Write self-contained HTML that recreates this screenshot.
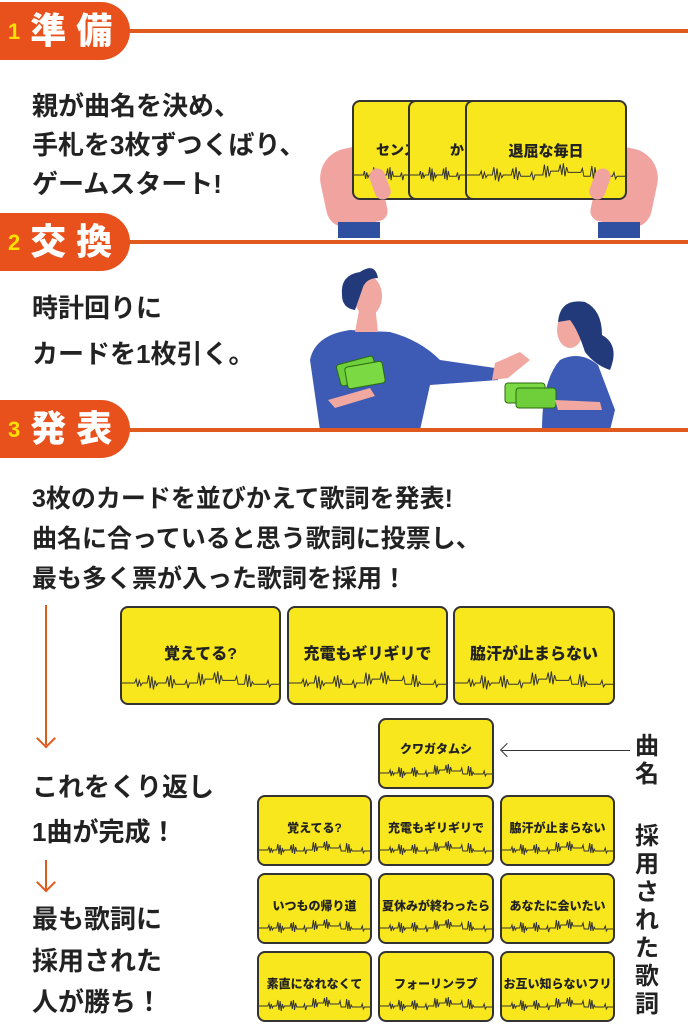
<!DOCTYPE html>
<html><head><meta charset="utf-8"><style>
*{margin:0;padding:0;box-sizing:border-box}
body{width:688px;height:1024px;position:relative;background:#fff;overflow:hidden;font-family:"Liberation Sans","Noto Sans CJK JP",sans-serif;color:#222}
.a{position:absolute}
.tab{position:absolute;left:0;width:130px;height:58px;background:#e8501c;border-radius:0 29px 29px 0;color:#fff;font-weight:900;font-size:36px;line-height:58px;padding-left:8px;white-space:nowrap}
.tab b{color:#ffe000;font-size:22px;margin-right:10px;vertical-align:4px}
.line{position:absolute;left:120px;right:0;height:4px;background:#e05a1e}
.t{position:absolute;font-weight:700;font-size:26px;white-space:nowrap;letter-spacing:0}
.card{position:absolute;background:#f8e71c;border:2px solid #333;border-radius:8px;overflow:hidden}
.card span{position:absolute;left:0;right:0;text-align:center;font-weight:900;white-space:nowrap;color:#222}
.card svg{position:absolute;left:0;width:100%}
.v{position:absolute;font-weight:700;font-size:24px;width:26px;line-height:28px;text-align:center}
</style></head><body>
<svg width="0" height="0" style="position:absolute"><defs>
<symbol id="w" viewBox="0 0 100 20" preserveAspectRatio="none"><path d="M0 10H8l1-3 1 6 1-5 1 4 1-2H16l1-6 1 10 1-9 1 10 1-7 1 4 1-2H28l1-5 1 8 1-9 1 10 1-7 1 4H40l1-3 1 6 1-4H48l1-8 1 10 1-9 1 8 1-4H58l1-5 1 8 1-9 1 10 1-7 1 4H72l1-3 1 6H78l1-8 1 10 1-9 1 9 1-4 1 2H92l1-3 1 5 1-2H100" fill="none" stroke="#333" stroke-width="1" vector-effect="non-scaling-stroke"/></symbol></defs></svg>

<div class="line" style="top:29px"></div>
<div class="tab" style="top:2px"><b>1</b>準 備</div>
<div class="t" style="left:32px;top:86px">親が曲名を決め、</div>
<div class="t" style="left:32px;top:125px">手札を3枚ずつくばり、</div>
<div class="t" style="left:32px;top:164px">ゲームスタート!</div>

<!-- hands -->
<div class="a" style="left:322px;top:148px;width:60px;height:78px;background:#f1a3a0;border-radius:30px 10px 10px 20px;transform:rotate(-12deg)"></div>
<div class="a" style="left:338px;top:222px;width:42px;height:16px;background:#2f4fa0"></div>
<div class="a" style="left:596px;top:148px;width:60px;height:78px;background:#f1a3a0;border-radius:10px 30px 20px 10px;transform:rotate(12deg)"></div>
<div class="a" style="left:598px;top:222px;width:42px;height:16px;background:#2f4fa0"></div>
<div class="card" style="left:352px;top:100px;width:120px;height:100px"><span style="top:38px;font-size:14px;text-align:left;padding-left:22px">センス</span><svg style="top:60px;height:26px"><use href="#w"/></svg></div>
<div class="card" style="left:408px;top:100px;width:120px;height:100px"><span style="top:38px;font-size:14px;text-align:left;padding-left:40px">か</span><svg style="top:60px;height:26px"><use href="#w"/></svg></div>
<div class="card" style="left:465px;top:100px;width:162px;height:100px"><span style="top:38px;font-size:15px">退屈な毎日</span><svg style="top:60px;height:26px"><use href="#w"/></svg></div>
<div class="a" style="left:372px;top:168px;width:16px;height:32px;background:#f1a3a0;border-radius:8px;transform:rotate(-20deg)"></div>
<div class="a" style="left:592px;top:168px;width:16px;height:32px;background:#f1a3a0;border-radius:8px;transform:rotate(20deg)"></div>

<div class="line" style="top:240px"></div>
<div class="tab" style="top:213px"><b>2</b>交 換</div>
<div class="t" style="left:32px;top:288px">時計回りに</div>
<div class="t" style="left:32px;top:334px">カードを1枚引く。</div>

<!-- people -->
<svg class="a" style="left:280px;top:260px" width="380" height="170" viewBox="0 0 380 170">
<path d="M40 170 L30 100 Q35 75 70 70 L110 72 Q140 80 160 100 L215 108 L218 120 L150 125 L140 170Z" fill="#3d5bb5"/>
<path d="M215 103 L240 92 L250 100 L228 118 L212 120Z" fill="#f0a8a0"/>
<path d="M75 72 L80 45 L95 45 L98 72Z" fill="#f0a8a0"/>
<ellipse cx="88" cy="36" rx="14" ry="20" fill="#f0a8a0"/>
<path d="M62 35 Q60 15 80 12 Q95 2 98 18 Q85 18 82 30 L75 50 Q62 48 62 35Z" fill="#223a7a"/>
<rect x="58" y="100" width="38" height="22" rx="3" fill="#6fcf3a" stroke="#2a6a10" transform="rotate(-15 77 111)"/>
<rect x="66" y="104" width="38" height="22" rx="3" fill="#7bd944" stroke="#2a6a10" transform="rotate(-10 85 115)"/>
<path d="M48 140 L90 128 L95 136 L55 148Z" fill="#f0a8a0"/>
<path d="M262 170 Q262 120 280 100 Q300 90 318 105 L335 150 L330 170Z" fill="#3d5bb5"/>
<ellipse cx="290" cy="70" rx="13" ry="18" fill="#f0a8a0"/>
<path d="M278 62 Q280 38 305 42 Q322 50 322 75 Q340 85 330 110 Q315 105 305 92 Q298 70 290 60Z" fill="#223a7a"/>
<rect x="225" y="123" width="40" height="20" rx="3" fill="#7bd944" stroke="#2a6a10"/>
<rect x="236" y="128" width="40" height="20" rx="3" fill="#6fcf3a" stroke="#2a6a10"/>
<path d="M275 140 L320 142 L322 150 L278 150Z" fill="#f0a8a0"/>
</svg>

<div class="line" style="top:428px"></div>
<div class="tab" style="top:400px"><b>3</b>発 表</div>
<div class="t" style="left:32px;top:479px;font-size:25px">3枚のカードを並びかえて歌詞を発表!</div>
<div class="t" style="left:32px;top:519px;font-size:25px">曲名に合っていると思う歌詞に投票し、</div>
<div class="t" style="left:32px;top:559px;font-size:25px">最も多く票が入った歌詞を採用！</div>

<!-- arrows left -->
<div class="a" style="left:45px;top:605px;width:2px;height:140px;background:#e05a1e"></div>
<div class="a" style="left:39px;top:740px;width:14px;height:14px;border-right:2px solid #e05a1e;border-bottom:2px solid #e05a1e;transform:rotate(45deg) translate(-6px,-6px)"></div>
<div class="a" style="left:45px;top:860px;width:2px;height:30px;background:#e05a1e"></div>
<div class="a" style="left:39px;top:884px;width:14px;height:14px;border-right:2px solid #e05a1e;border-bottom:2px solid #e05a1e;transform:rotate(45deg) translate(-6px,-6px)"></div>

<div class="t" style="left:32px;top:767px">これをくり返し</div>
<div class="t" style="left:32px;top:812px">1曲が完成！</div>
<div class="t" style="left:32px;top:899px">最も歌詞に</div>
<div class="t" style="left:32px;top:941px">採用された</div>
<div class="t" style="left:32px;top:982px">人が勝ち！</div>

<!-- top row cards -->
<div class="card" style="left:120px;top:606px;width:161px;height:99px"><span style="top:32px;font-size:16px">覚えてる?</span><svg style="top:62px;height:26px"><use href="#w"/></svg></div>
<div class="card" style="left:287px;top:606px;width:161px;height:99px"><span style="top:32px;font-size:16px">充電もギリギリで</span><svg style="top:62px;height:26px"><use href="#w"/></svg></div>
<div class="card" style="left:453px;top:606px;width:162px;height:99px"><span style="top:32px;font-size:16px">脇汗が止まらない</span><svg style="top:62px;height:26px"><use href="#w"/></svg></div>

<div class="card" style="left:378px;top:718px;width:116px;height:71px"><span style="top:20px;font-size:12px">クワガタムシ</span><svg style="top:43px;height:20px"><use href="#w"/></svg></div>
<div class="a" style="left:502px;top:750px;width:128px;height:1px;background:#333"></div>
<div class="a" style="left:502px;top:745px;width:10px;height:10px;border-left:1px solid #333;border-bottom:1px solid #333;transform:rotate(45deg)"></div>
<div class="v" style="left:634px;top:733px">曲<br>名</div>
<div class="v" style="left:634px;top:823px">採<br>用<br>さ<br>れ<br>た<br>歌<br>詞</div>

<div class="card" style="left:257px;top:795px;width:115px;height:71px"><span style="top:22px;font-size:12px">覚えてる?</span><svg style="top:43px;height:20px"><use href="#w"/></svg></div>
<div class="card" style="left:378px;top:795px;width:116px;height:71px"><span style="top:22px;font-size:12px">充電もギリギリで</span><svg style="top:43px;height:20px"><use href="#w"/></svg></div>
<div class="card" style="left:500px;top:795px;width:115px;height:71px"><span style="top:22px;font-size:12px">脇汗が止まらない</span><svg style="top:43px;height:20px"><use href="#w"/></svg></div>
<div class="card" style="left:257px;top:873px;width:115px;height:71px"><span style="top:22px;font-size:12px">いつもの帰り道</span><svg style="top:43px;height:20px"><use href="#w"/></svg></div>
<div class="card" style="left:378px;top:873px;width:116px;height:71px"><span style="top:22px;font-size:12px">夏休みが終わったら</span><svg style="top:43px;height:20px"><use href="#w"/></svg></div>
<div class="card" style="left:500px;top:873px;width:115px;height:71px"><span style="top:22px;font-size:12px">あなたに会いたい</span><svg style="top:43px;height:20px"><use href="#w"/></svg></div>
<div class="card" style="left:257px;top:951px;width:115px;height:71px"><span style="top:22px;font-size:12px">素直になれなくて</span><svg style="top:43px;height:20px"><use href="#w"/></svg></div>
<div class="card" style="left:378px;top:951px;width:116px;height:71px"><span style="top:22px;font-size:12px">フォーリンラブ</span><svg style="top:43px;height:20px"><use href="#w"/></svg></div>
<div class="card" style="left:500px;top:951px;width:115px;height:71px"><span style="top:22px;font-size:12px">お互い知らないフリ</span><svg style="top:43px;height:20px"><use href="#w"/></svg></div>
</body></html>
